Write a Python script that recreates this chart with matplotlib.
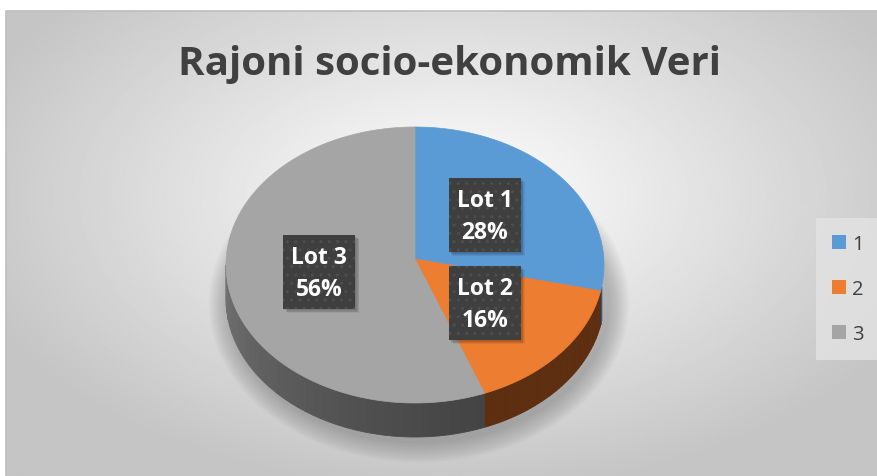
import numpy as np
import matplotlib
matplotlib.use("Agg")
import matplotlib.pyplot as plt
from matplotlib.patches import Polygon, Rectangle, Ellipse, Patch

# --- data ---
title = "Rajoni socio-ekonomik Veri"
categories = ["1", "2", "3"]
slice_labels = ["Lot 1", "Lot 2", "Lot 3"]
values = [28, 16, 56]
colors = ["#5B9BD5", "#ED7D31", "#A5A5A5"]
side_dark = ["#2F5F8C", "#5E2E11", "#424242"]
side_light = ["#3E74A6", "#6D3816", "#727272"]

W, H = 877, 477


def main():
    plt.rcParams["font.family"] = ["Open Sans", "DejaVu Sans"]
    fig = plt.figure(figsize=(W / 100, H / 100), dpi=100)
    ax = fig.add_axes([0, 0, 1, 1])
    ax.set_xlim(0, W)
    ax.set_ylim(H, 0)
    ax.axis("off")

    # --- background: white page, chart area with radial gradient ---
    ax.add_patch(Rectangle((0, 0), W, H, fc="white", ec="none", zorder=0))
    yy, xx = np.mgrid[0:H, 0:W]
    r = np.sqrt(((xx - 450) / 560.0) ** 2 + ((yy - 190) / 330.0) ** 2)
    shade = np.clip(1 - 0.25 * r, 0.77, 1.0)
    ax.imshow(shade, cmap="gray", vmin=0, vmax=1, extent=(6, W, H, 12),
              zorder=1, aspect="auto", interpolation="bilinear")
    ax.plot([6, 6, W], [H, 12, 12], color="#BDBDBD", lw=1.2, zorder=2)

    # --- pie geometry ---
    cx, cy = 415, 266
    rx, ry = 189, 138
    depth = 34
    apex = (cx, cy - 6)
    front = (-180.0, -9.0)  # visible part of the rim (perspective)

    def rim(t, dy=0.0):
        t = np.radians(t)
        return np.column_stack([cx + rx * np.cos(t), cy - ry * np.sin(t) + dy])

    # soft shadow under the pie
    for i in range(14):
        ax.add_patch(Ellipse((cx + 4, cy + depth + 4), 2 * rx + 4 + 3 * i,
                             2 * ry + 4 + 3 * i, fc="black", ec="none",
                             alpha=0.016, zorder=3))

    total = float(sum(values))
    starts, ends = [], []
    a = 90.0
    for v in values:
        starts.append(a)
        a -= 360.0 * v / total
        ends.append(a)

    # sides (front half only)
    for i in range(len(values)):
        lo, hi = max(ends[i], front[0]), min(starts[i], front[1])
        if hi <= lo:
            continue
        steps = np.linspace(hi, lo, 40)
        c1 = np.array(matplotlib.colors.to_rgb(side_dark[i]))
        c2 = np.array(matplotlib.colors.to_rgb(side_light[i]))
        for t0, t1 in zip(steps[:-1], steps[1:]):
            ts = np.linspace(t0, t1, 4)
            top = rim(ts)
            bot = rim(ts[::-1], depth)
            f = (-(t0 + t1) / 2 - 60) / 120.0
            f = np.clip(f, 0, 1) ** 1.3
            col = c1 * (1 - f) + c2 * f
            ax.add_patch(Polygon(np.vstack([top, bot]), closed=True, fc=col,
                                 ec=col, lw=0.6, zorder=4))

    # top faces
    for i in range(len(values)):
        ts = np.linspace(starts[i], ends[i], 200)
        pts = np.vstack([[apex], rim(ts)])
        ax.add_patch(Polygon(pts, closed=True, fc=colors[i], ec=colors[i],
                             lw=0.5, zorder=5))

    # data labels
    bw, bh = 72, 74
    for i in range(len(values)):
        mid = np.radians((starts[i] + ends[i]) / 2)
        lx = apex[0] + 0.5 * rx * np.cos(mid) - 3
        ly = apex[1] - 0.5 * ry * np.sin(mid)
        for k in range(5):
            ax.add_patch(Rectangle((lx - bw / 2 + 1 + k * 0.8, ly - bh / 2 + 1 + k * 0.8),
                                   bw, bh, fc="black", ec="none", alpha=0.06, zorder=6))
        ax.add_patch(Rectangle((lx - bw / 2, ly - bh / 2), bw, bh,
                               fc="#3F3F3F", ec="none", zorder=7))
        ax.add_patch(Rectangle((lx - bw / 2, ly - bh / 2), bw, bh, fc="none",
                               ec="#4E4E4E", lw=0, hatch="..", zorder=7))
        pct = 100.0 * values[i] / total
        ax.text(lx, ly + 1, f"{slice_labels[i]}\n{pct:.0f}%", ha="center",
                va="center", color="white", fontsize=16.5, fontweight="bold",
                linespacing=1.4, zorder=8)

    # title
    ax.text(449, 64, title, ha="center", va="center", fontsize=29,
            fontweight="bold", color="#404040", zorder=8)

    # legend
    handles = [Patch(fc=c, ec="none") for c in colors]
    leg = ax.legend(handles, categories, loc="center", bbox_to_anchor=(848 / W, 1 - 290 / H),
                    frameon=True, fontsize=14.5, handlelength=0.7, handleheight=0.7,
                    handletextpad=0.3, labelspacing=1.25, borderpad=0.8,
                    fancybox=False, labelcolor="#404040")
    leg.get_frame().set_facecolor("#E3E3E3")
    leg.get_frame().set_edgecolor("none")
    leg.set_zorder(9)

    fig.savefig("out.png", dpi=100)


if __name__ == "__main__":
    main()
